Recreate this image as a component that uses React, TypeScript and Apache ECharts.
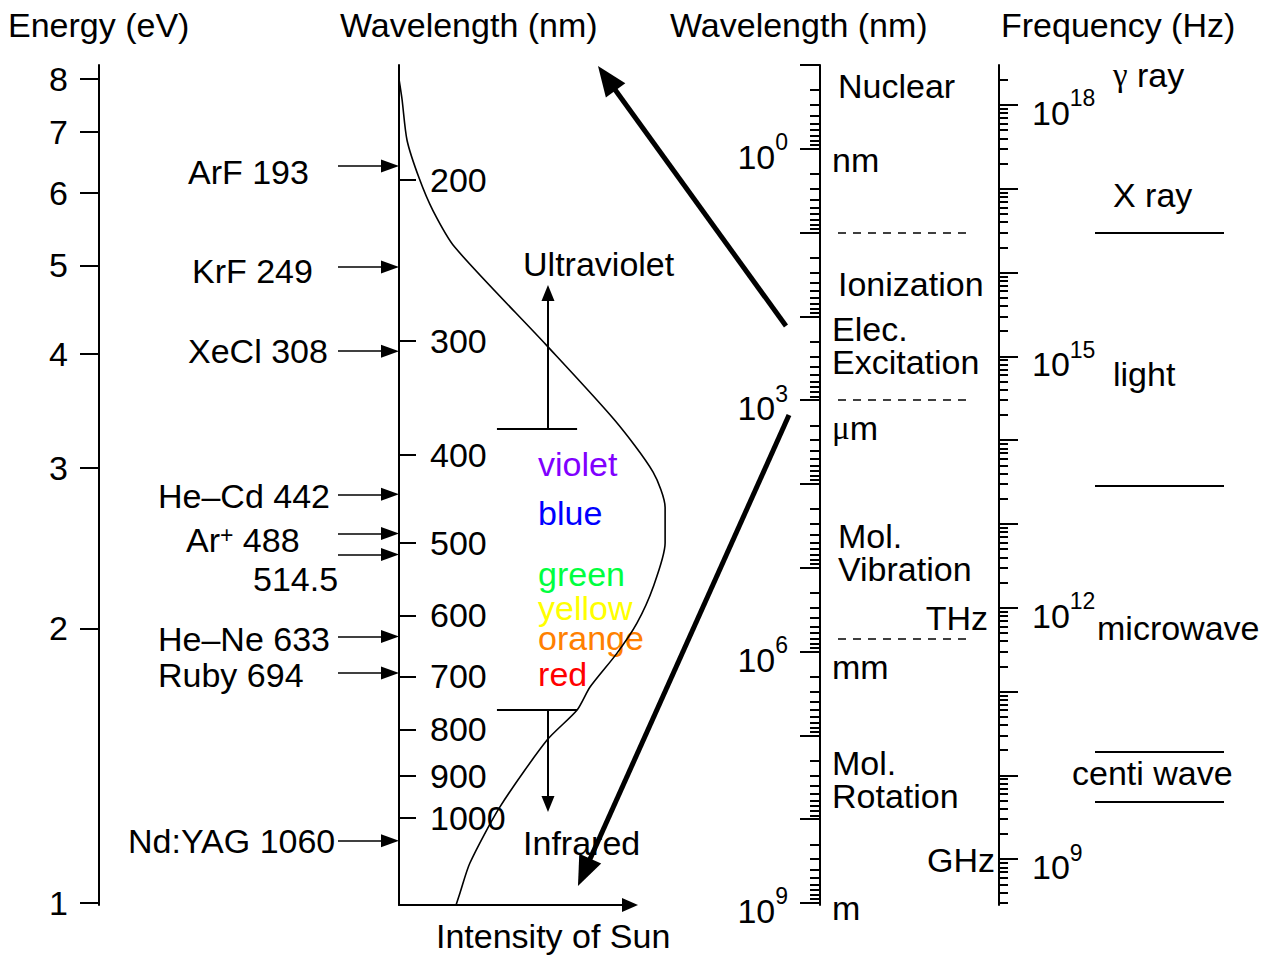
import React, { useEffect, useRef } from 'react';
import * as echarts from 'echarts';

const FONT = '"Liberation Sans", Arial, Helvetica, sans-serif';
const SERIF = '"Liberation Serif", "Times New Roman", serif';
const FS = 34; // main text size
const HC = 1240; // eV·nm
const LOG_C_NM = Math.log10(2.998e17); // c in nm/s

// ---------- axis ticks ----------
const energyTicks = [1, 2, 3, 4, 5, 6, 7, 8];
const wavelengthTicks = [200, 300, 400, 500, 600, 700, 800, 900, 1000];
const lambdaDecades = [-1, 0, 1, 2, 3, 4, 5, 6, 7, 8, 9];
const lambdaLabelDecades = [0, 3, 6, 9];
const freqDecades = [9, 10, 11, 12, 13, 14, 15, 16, 17, 18];
const freqLabelDecades = [9, 12, 15, 18];

// ---------- lasers ----------
const laserNames = ['ArF 193', 'KrF 249', 'XeCl 308', 'He–Cd 442', '{t|Ar}{sup|+}{t| 488}', '514.5', 'He–Ne 633', 'Ruby 694', 'Nd:YAG 1060'];
const laserWavelengths = [193, 249, 308, 442, 488, 514.5, 633, 694, 1060];
const laserLabelX = [188, 192, 188, 158, 186, 253, 158, 158, 128];
const laserLabelDy = [6, 4, 0, 2, 7, 25, 2, 2, 0];

// ---------- sun spectrum (relative intensity vs wavelength nm) ----------
const sunWavelengths = [155, 163, 181, 199, 216, 237, 303, 367, 418, 457, 500, 559, 612, 660, 719, 762, 822, 973, 1121, 1209, 1246];
const sunIntensity = [0, 1.3, 3.5, 8.7, 14.7, 24.2, 63.6, 93.5, 110, 115.2, 115.2, 110, 103, 94.4, 82.7, 77.1, 64.1, 43.7, 30.7, 26.4, 24.7];

// ---------- visible colours ----------
const colorNames = ['violet', 'blue', 'green', 'yellow', 'orange', 'red'];
const colorWavelengths = [410, 463, 540, 589, 635, 696];
const colorValues = ['#8000ff', '#0000ff', '#00ff40', '#ffff00', '#ff8000', '#ff0000'];
const uvBoundary = 375;
const irBoundary = 762;
const uvArrowEnd = 266;
const irArrowEnd = 966;
const uvLabelWavelength = 247;
const irLabelWavelength = 1066;

// ---------- right wavelength panel (log10 nm) ----------
const regionLabels = ['Nuclear', 'nm', 'Ionization', 'Elec.', 'Excitation', '{g|μ}m', 'Mol.', 'Vibration', 'THz', 'mm', 'Mol.', 'Rotation', 'GHz', 'm'];
const regionLogLambda = [-0.749, 0.134, 1.613, 2.150, 2.544, 3.332, 4.621, 5.014, 5.599, 6.184, 7.329, 7.723, 8.487, 9.06];
const regionX = [838, 832, 838, 832, 832, 832, 838, 838, 988, 832, 832, 832, 995, 832];
const regionRightAligned = [false, false, false, false, false, false, false, false, true, false, false, false, true, false];
const regionDividers = [1, 3, 5.85];

// ---------- frequency panel (log10 Hz) ----------
const bandLabels = ['{g|γ} ray', 'X ray', 'light', 'microwave', 'centi wave'];
const bandLogFreq = [18.358, 16.926, 14.79, 11.759, 10.028];
const bandX = [1113, 1113, 1113, 1097, 1072];
const bandDividers = [16.477, 13.453, 10.279, 9.682];

// ---------- big arrows (log10 nm on right panel) ----------
const bigArrowStart = [[786, 2.115], [789, 3.177]];
const bigArrowEnd = [[606.8, -0.842], [584.1, 8.634]];

const E_MIN = -0.0022;
const E_MAX = 0.9185;
const L_MIN = -1;
const L_MAX = 9.024;
const F_MIN = LOG_C_NM - L_MAX;
const F_MAX = LOG_C_NM - L_MIN;
const I_PX = 2.31; // px per intensity unit

const logE = (nm: number) => Math.log10(HC / nm);
const minorLog = (lo: number, hi: number) => {
  const out: number[] = [];
  for (let d = Math.floor(lo) - 1; d <= Math.ceil(hi); d++) {
    for (let k = 2; k <= 9; k++) {
      const v = d + Math.log10(k);
      if (v > lo && v < hi) out.push(v);
    }
  }
  return out;
};

const black = '#000';
const axisLine = { show: true, onZero: false, lineStyle: { color: black, width: 2 } };
const tickStyle = { color: black, width: 2 };
const txt = { fontFamily: FONT, color: black };
const powRich = {
  b: { fontSize: FS, fontFamily: FONT, color: black, padding: [16, 0, 0, 0] },
  s: { fontSize: 23, fontFamily: FONT, color: black, verticalAlign: 'top', padding: [7, 0, 0, 0] },
};
const greekRich = {
  g: { fontSize: 33, fontFamily: SERIF, color: black },
};

const textSeries = (xi: number, yi: number, items: any[], extra: any = {}) => ({
  type: 'scatter',
  xAxisIndex: xi,
  yAxisIndex: yi,
  symbolSize: 0,
  silent: true,
  clip: false,
  itemStyle: { color: 'transparent', opacity: 1 },
  label: {
    show: true,
    position: 'right',
    distance: 0,
    formatter: '{b}',
    fontSize: FS,
    lineHeight: 30,
    opacity: 1,
    ...txt,
    ...extra,
  },
  data: items,
});

const linesSeries = (xi: number, yi: number, coords: any[], style: any, arrow?: any) => ({
  type: 'lines',
  coordinateSystem: 'cartesian2d',
  xAxisIndex: xi,
  yAxisIndex: yi,
  silent: true,
  clip: false,
  symbol: arrow ? ['none', 'triangle'] : ['none', 'none'],
  symbolSize: arrow ? [0, arrow] : [0, 0],
  lineStyle: { color: black, opacity: 1, curveness: 0, ...style },
  data: coords.map((c) => ({ coords: c })),
});

function buildOption(): any {
  return {
    animation: false,
    backgroundColor: '#fff',
    title: [
      { text: 'Energy (eV)', left: 8, top: 8 },
      { text: 'Wavelength (nm)', left: 340, top: 8 },
      { text: 'Wavelength (nm)', left: 670, top: 8 },
      { text: 'Frequency (Hz)', left: 1001, top: 8 },
      { text: 'Intensity of Sun', left: 436, top: 919 },
    ].map((t) => ({ ...t, padding: 0, textStyle: { fontSize: FS, fontWeight: 'normal', ...txt } })),
    grid: [
      { left: 99, top: 65, width: 300, height: 840 },
      { left: 399, top: 65, width: 330, height: 840 },
      { left: 820, top: 65, width: 179, height: 840 },
      { left: 999, top: 65, width: 270, height: 840 },
      { left: 399, top: 65, width: 231, height: 840 },
    ],
    xAxis: [
      { gridIndex: 0, type: 'value', min: 99, max: 399, show: false },
      { gridIndex: 1, type: 'value', min: 0, max: 330 / I_PX, show: false },
      { gridIndex: 2, type: 'value', min: 820, max: 999, show: false },
      { gridIndex: 3, type: 'value', min: 999, max: 1269, show: false },
      {
        gridIndex: 4, type: 'value', min: 0, max: 231 / I_PX,
        axisLine: { ...axisLine, symbol: ['none', 'triangle'], symbolSize: [14, 16] },
        axisTick: { show: false }, axisLabel: { show: false }, splitLine: { show: false },
      },
    ],
    yAxis: [
      {
        gridIndex: 0, type: 'value', position: 'left', min: E_MIN, max: E_MAX,
        axisLine,
        axisTick: { show: true, customValues: energyTicks.map(Math.log10), length: 19, lineStyle: tickStyle },
        axisLabel: { customValues: energyTicks.map(Math.log10), formatter: (v: number) => String(Math.round(10 ** v)), fontSize: FS, margin: 31, ...txt },
        splitLine: { show: false },
      },
      {
        gridIndex: 0, type: 'value', position: 'right', min: E_MIN, max: E_MAX,
        axisLine,
        axisTick: { show: true, customValues: wavelengthTicks.map(logE), length: 17, lineStyle: tickStyle },
        axisLabel: { customValues: wavelengthTicks.map(logE), formatter: (v: number) => String(Math.round(HC / 10 ** v)), fontSize: FS, margin: 31, ...txt },
        splitLine: { show: false },
      },
      { gridIndex: 1, type: 'value', min: E_MIN, max: E_MAX, show: false },
      {
        gridIndex: 2, type: 'value', position: 'left', inverse: true, min: L_MIN, max: L_MAX,
        axisLine,
        axisTick: { show: true, customValues: lambdaDecades, length: 20, lineStyle: tickStyle },
        axisLabel: { customValues: lambdaLabelDecades, formatter: (v: number) => `{b|10}{s|${Math.round(v)}}`, rich: powRich, margin: 32, ...txt },
        splitLine: { show: false },
      },
      {
        gridIndex: 2, type: 'value', position: 'left', inverse: true, min: L_MIN, max: L_MAX,
        axisLine: { show: false },
        axisTick: { show: true, customValues: minorLog(L_MIN, L_MAX), length: 10, lineStyle: tickStyle },
        axisLabel: { show: false }, splitLine: { show: false },
      },
      {
        gridIndex: 3, type: 'value', position: 'left', min: F_MIN, max: F_MAX,
        axisLine,
        axisTick: { show: true, inside: true, customValues: freqDecades, length: 19, lineStyle: tickStyle },
        axisLabel: { inside: true, customValues: freqLabelDecades, formatter: (v: number) => `{b|10}{s|${Math.round(v)}}`, rich: powRich, margin: 33, ...txt },
        splitLine: { show: false },
      },
      {
        gridIndex: 3, type: 'value', position: 'left', min: F_MIN, max: F_MAX,
        axisLine: { show: false },
        axisTick: { show: true, inside: true, customValues: minorLog(F_MIN, F_MAX), length: 9, lineStyle: tickStyle },
        axisLabel: { show: false }, splitLine: { show: false },
      },
      { gridIndex: 4, type: 'value', min: E_MIN, max: E_MAX, show: false },
    ],
    series: [
      // sun spectrum
      {
        type: 'line', xAxisIndex: 1, yAxisIndex: 2, silent: true, clip: false,
        showSymbol: false, symbol: 'none', smooth: 0.25,
        lineStyle: { color: black, width: 1.6 },
        data: sunIntensity.map((I, i) => [I, logE(sunWavelengths[i])]),
      },
      // laser arrows
      linesSeries(0, 0, laserWavelengths.map((w) => [[338, logE(w)], [390, logE(w)]]), { width: 1.6 }, [13, 18]),
      // laser labels
      textSeries(0, 0, laserNames.map((n, i) => ({
        name: n,
        value: [laserLabelX[i], logE(laserWavelengths[i])],
        label: { offset: [0, laserLabelDy[i]] },
      })), {
        rich: {
          t: { fontSize: FS, fontFamily: FONT, color: black, lineHeight: 34, verticalAlign: 'bottom' },
          sup: { fontSize: 23, fontFamily: FONT, color: black, lineHeight: 20, verticalAlign: 'top' },
        },
      }),
      // UV / IR boundaries
      linesSeries(1, 2, [
        [[42.4, logE(uvBoundary)], [77.1, logE(uvBoundary)]],
        [[42.4, logE(irBoundary)], [77.1, logE(irBoundary)]],
      ], { width: 2 }),
      linesSeries(1, 2, [
        [[64.5, logE(uvBoundary)], [64.5, logE(uvArrowEnd)]],
        [[64.5, logE(irBoundary)], [64.5, logE(irArrowEnd)]],
      ], { width: 2 }, [13, 16]),
      textSeries(1, 2, [
        { name: 'Ultraviolet', value: [53.7, logE(uvLabelWavelength)] },
        { name: 'Infrared', value: [53.7, logE(irLabelWavelength)] },
      ]),
      textSeries(1, 2, colorNames.map((n, i) => ({
        name: n,
        value: [60.2, logE(colorWavelengths[i])],
        label: { color: colorValues[i] },
      })), { lineHeight: 26 }),
      // right wavelength panel
      linesSeries(2, 3, regionDividers.map((v) => [[838, v], [968, v]]), { width: 1.6, type: [8, 7] }),
      textSeries(2, 3, regionLabels.map((n, i) => ({
        name: n,
        value: [regionX[i], regionLogLambda[i]],
        label: regionRightAligned[i] ? { position: 'left' } : {},
      })), { lineHeight: 28, rich: greekRich }),
      linesSeries(2, 3, bigArrowStart.map((s, i) => [s, bigArrowEnd[i]]), { width: 5 }, [24, 30]),
      // frequency panel
      linesSeries(3, 5, bandDividers.map((v) => [[1095, v], [1224, v]]), { width: 2 }),
      textSeries(3, 5, bandLabels.map((n, i) => ({ name: n, value: [bandX[i], bandLogFreq[i]] })), { rich: greekRich }),
    ],
  };
}

export default function App() {
  const ref = useRef<HTMLDivElement>(null);
  useEffect(() => {
    const chart = echarts.init(ref.current!, null, { renderer: 'svg' });
    chart.setOption(buildOption());
    return () => chart.dispose();
  }, []);
  return (
    <div
      ref={ref}
      style={{ position: 'fixed', left: 0, top: 0, width: 1269, height: 956, background: '#fff' }}
    />
  );
}
